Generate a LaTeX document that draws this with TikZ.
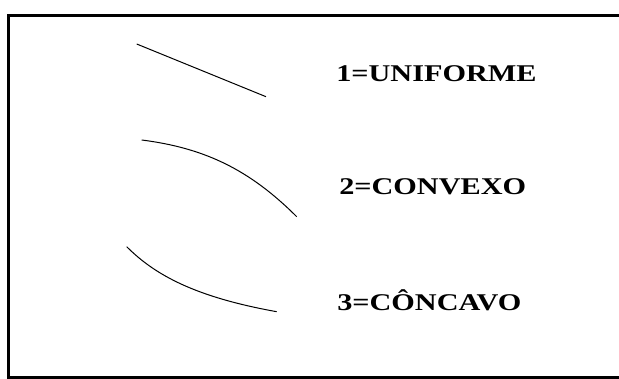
\documentclass[tikz,border=0pt]{standalone}
\usepackage{fontspec}
\setmainfont{Liberation Serif}

\begin{document}
\begin{tikzpicture}[
    x=1pt, y=-1pt,
    curve/.style={line width=1pt, black},
    label/.style={anchor=west, inner sep=0pt, xscale=1.26,
        font=\fontsize{24}{28}\selectfont\bfseries}
]
\useasboundingbox (0,0) rectangle (619,379);

% Frame
\draw [line width=3pt] (640,15.5) -- (8.5,15.5) -- (8.5,377.5) -- (640,377.5);

% Curves
\draw [curve] (136.7,44) -- (266,96.7);
\draw [curve] (141.7,140) .. controls (205,148) and (250,170) .. (296.7,216.7);
\draw [curve] (126.7,246.7) .. controls (155,275) and (195,297) .. (276.7,311.7);

% Labels
\node (uniforme) [label] at (336,73.5) {1=UNIFORME};
\node (convexo) [label] at (339,187) {2=CONVEXO};
\node (concavo) [label] at (337,300) {3=CÔNCAVO};

\end{tikzpicture}
\end{document}
